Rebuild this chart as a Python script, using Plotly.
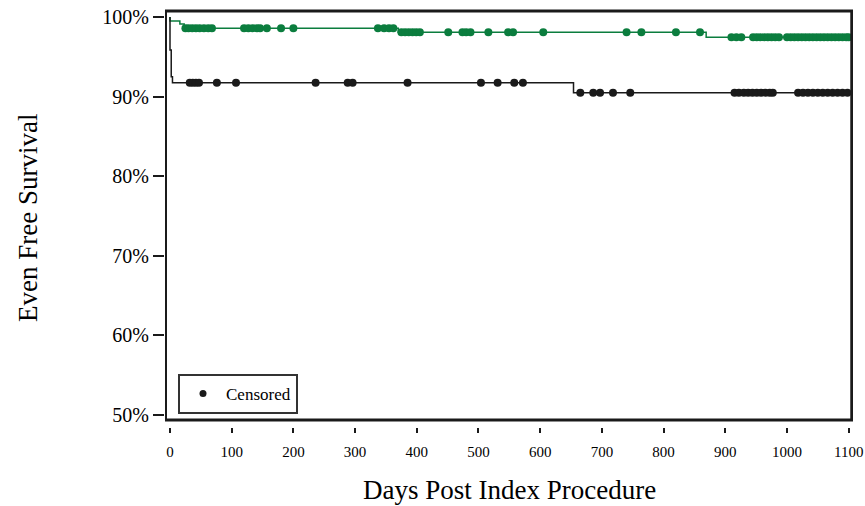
import plotly.graph_objects as go

# ---- data ----
green_times = [0, 0, 16, 23, 370, 869, 1100]
green_surv = [100, 99.5, 99.12, 98.58, 98.08, 97.45, 97.45]
green_censor_days = [25, 30, 36, 42, 48, 55, 62, 68, 120, 127, 134, 141, 146, 157, 180, 200,
                     337, 347, 355, 362, 375, 381, 387, 393, 399, 405, 451, 474, 480, 487,
                     516, 548, 556, 605, 740, 764, 820, 859, 910, 918, 926, 945, 951, 957,
                     963, 969, 975, 981, 987, 1000, 1006, 1012, 1018, 1024, 1030, 1036,
                     1042, 1048, 1054, 1060, 1066, 1072, 1078, 1084, 1090, 1096, 1100]

black_times = [0, 0, 2, 4, 654, 1100]
black_surv = [100, 95.85, 92.5, 91.75, 90.49, 90.49]
black_censor_days = [32, 37, 42, 47, 76, 107, 236, 288, 296, 385, 504, 531, 558, 572,
                     665, 686, 697, 718, 746, 915, 922, 930, 937, 944, 951, 958, 965, 972,
                     977, 1018, 1026, 1034, 1042, 1050, 1058, 1066, 1074, 1082, 1090, 1098]

x_ticks = [0, 100, 200, 300, 400, 500, 600, 700, 800, 900, 1000, 1100]
y_ticks = [50, 60, 70, 80, 90, 100]

x_title = "Days Post Index Procedure"
y_title = "Even Free Survival"

GREEN = "#0b7d3e"
BLACK = "#1a1a1a"
FONT = "Liberation Serif"

W, H = 865, 506
L, T, B = 165, 9, 79
PLOT_W = 688
PLOT_H = H - T - B


def step_value(times, surv, t):
    val = surv[0]
    for ti, si in zip(times, surv):
        if ti <= t:
            val = si
    return val


fig = go.Figure()
for times, surv, cens, col in [(green_times, green_surv, green_censor_days, GREEN),
                               (black_times, black_surv, black_censor_days, BLACK)]:
    fig.add_trace(go.Scatter(x=times, y=surv, mode="lines", line=dict(color=col, width=1.5, shape="hv"),
                             showlegend=False, hoverinfo="skip"))
    fig.add_trace(go.Scatter(x=cens, y=[step_value(times, surv, d) for d in cens], mode="markers",
                             marker=dict(color=col, size=8, symbol="circle"), showlegend=False))

# legend entry
fig.add_trace(go.Scatter(x=[None], y=[None], mode="markers", name="Censored",
                         marker=dict(color=BLACK, size=7, symbol="circle"), showlegend=True))

# frame
fig.add_shape(type="rect", xref="x", yref="y", x0=-7.3, x1=1105, y0=49.37, y1=100.754,
              line=dict(color=BLACK, width=3), layer="above")

fig.add_annotation(text=x_title, xref="paper", yref="paper", x=0.5, y=-63 / PLOT_H,
                   xanchor="center", yanchor="middle", showarrow=False,
                   font=dict(family=FONT, size=27, color="black"))
fig.add_annotation(text=y_title, xref="paper", yref="paper", x=(28 - L) / PLOT_W, y=0.5,
                   xanchor="center", yanchor="middle", showarrow=False, textangle=-90,
                   font=dict(family=FONT, size=27, color="black"))

fig.update_layout(
    width=W, height=H,
    margin=dict(l=L, r=W - L - PLOT_W, t=T, b=B, pad=0),
    paper_bgcolor="white", plot_bgcolor="white",
    font=dict(family=FONT, color="black"),
    showlegend=True,
    legend=dict(x=13 / PLOT_W, y=13 / PLOT_H, xanchor="left", yanchor="bottom",
                bordercolor="#333333", borderwidth=2, bgcolor="white",
                font=dict(family=FONT, size=17), itemwidth=36),
    xaxis=dict(range=[-8.1, 1107], tickvals=x_ticks, ticktext=[str(v) for v in x_ticks],
               showgrid=False, zeroline=False, showline=False, automargin=False,
               ticks="outside", ticklen=5, tickwidth=2, tickcolor=BLACK,
               tickfont=dict(family=FONT, size=15), ticklabelstandoff=6),
    yaxis=dict(range=[48.49, 101.0], tickvals=y_ticks, ticktext=[f"{v}%" for v in y_ticks],
               showgrid=False, zeroline=False, showline=False, automargin=False,
               ticks="outside", ticklen=11, tickwidth=2, tickcolor=BLACK,
               tickfont=dict(family=FONT, size=20)),
)

fig.write_html("out.html", config={"displayModeBar": False},
               post_script="document.body.style.margin='0px';")
